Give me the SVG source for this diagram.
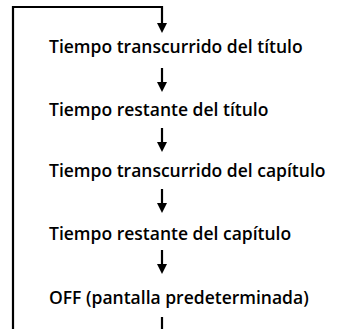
<svg xmlns="http://www.w3.org/2000/svg" width="337" height="329" viewBox="0 0 337 329">
<style>
.t{font-family:"Open Sans","DejaVu Sans",sans-serif;font-weight:600;font-size:17.5px;fill:#000}
.c{stroke:#000;stroke-width:2.2;fill:none}
.h{fill:#000}
</style>
<defs>
<polygon id="ah" points="-5,0 5,0 0,10" class="h"/>
</defs>
<rect width="337" height="329" fill="#fff"/>
<g id="connectors">
<path class="c" d="M13,329 V7 H162 V24" stroke-width="2.6"/>
<use href="#ah" x="162" y="23"/>
<path class="c" d="M162,68 V84"/>
<use href="#ah" x="162" y="82"/>
<path class="c" d="M162,128 V144"/>
<use href="#ah" x="162" y="142"/>
<path class="c" d="M162,189 V205"/>
<use href="#ah" x="162" y="203"/>
<path class="c" d="M162,250 V266"/>
<use href="#ah" x="162" y="264"/>
<path class="c" d="M162,317 V329"/>
</g>
<g id="n1"><text class="t" x="49" y="53">Tiempo transcurrido del título</text></g>
<g id="n2"><text class="t" x="49" y="116">Tiempo restante del título</text></g>
<g id="n3"><text class="t" x="49" y="177">Tiempo transcurrido del capítulo</text></g>
<g id="n4"><text class="t" x="49" y="240">Tiempo restante del capítulo</text></g>
<g id="n5"><text class="t" x="49" y="304">OFF (pantalla predeterminada)</text></g>
</svg>
